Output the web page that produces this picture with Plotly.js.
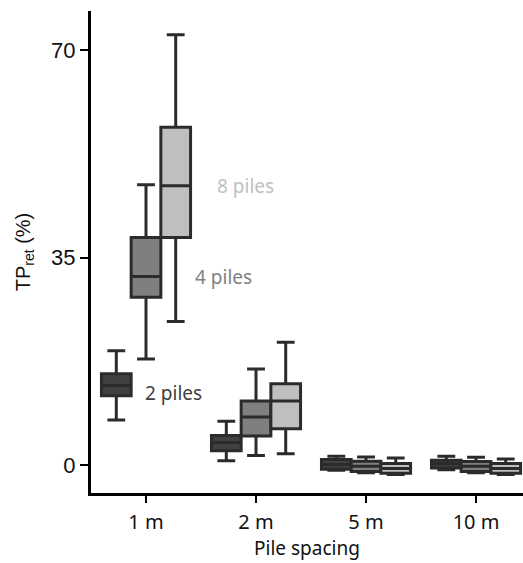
<!DOCTYPE html>
<html>
<head>
<meta charset="utf-8">
<script src="https://cdn.plot.ly/plotly-3.0.1.min.js"></script>
<style>html,body{margin:0;padding:0;background:#fff;}#chart{width:523px;height:563px;}</style>
</head>
<body>
<div id="chart"></div>
<script>
var categories = ["1 m", "2 m", "5 m", "10 m"];
var seriesNames = ["2 piles", "4 piles", "8 piles"];

var lower2 = [7.6, 0.7, -0.9, -0.8];
var q1_2 = [11.7, 2.4, -0.7, -0.5];
var med2 = [13.4, 3.8, 0.1, 0.2];
var q3_2 = [15.4, 5.0, 0.93, 0.8];
var upper2 = [19.3, 7.4, 1.5, 1.5];

var lower4 = [17.9, 1.6, -1.3, -1.3];
var q1_4 = [28.3, 4.9, -1.1, -1.1];
var med4 = [31.8, 8.1, -0.2, -0.2];
var q3_4 = [38.4, 10.8, 0.64, 0.6];
var upper4 = [47.3, 16.2, 1.35, 1.3];

var lower8 = [24.2, 1.9, -1.6, -1.6];
var q1_8 = [38.4, 6.1, -1.4, -1.4];
var med8 = [47.1, 10.8, -0.6, -0.6];
var q3_8 = [57.0, 13.7, 0.25, 0.25];
var upper8 = [72.6, 20.7, 1.18, 1.0];

var yTicks = [0, 35, 70];
var xTitle = "Pile spacing";
var yTitle = "TP<sub>ret</sub> (%)";

var fills = ["#404040", "#7f7f7f", "#bfbfbf"];
var edge = "#2b2b2b";

function mk(i, lo, a, m, b, hi) {
  return {
    type: "box", name: seriesNames[i], x: categories,
    lowerfence: lo, q1: a, median: m, q3: b, upperfence: hi,
    fillcolor: fills[i], line: {color: edge, width: 3},
    whiskerwidth: 0.6, boxpoints: false, showlegend: false, hoverinfo: "skip"
  };
}
var data = [
  mk(0, lower2, q1_2, med2, q3_2, upper2),
  mk(1, lower4, q1_4, med4, q3_4, upper4),
  mk(2, lower8, q1_8, med8, q3_8, upper8)
];

var layout = {
  width: 523, height: 563,
  margin: {l: 91, r: 0, t: 11, b: 70},
  paper_bgcolor: "#fff", plot_bgcolor: "#fff",
  boxmode: "group", boxgap: 0.19, boxgroupgap: 0,
  showlegend: false,
  xaxis: {
    type: "category", range: [-0.5, 3.427],
    showline: true, linecolor: "#000", linewidth: 3,
    showgrid: false, zeroline: false,
    ticks: "outside", ticklen: 7, tickwidth: 2, tickcolor: "#000",
    ticklabelstandoff: 2,
    tickfont: {family: "Noto Sans", size: 20, color: "#111"},
    title: {text: xTitle, font: {family: "Noto Sans", size: 19, color: "#111"}, standoff: 6}
  },
  yaxis: {
    range: [-4.72, 76.6],
    showline: true, linecolor: "#000", linewidth: 3,
    showgrid: false, zeroline: false,
    tickvals: yTicks, ticktext: yTicks.map(String),
    ticks: "outside", ticklen: 8, tickwidth: 2, tickcolor: "#000",
    tickfont: {family: "Liberation Sans", size: 22, color: "#111"},
    title: {text: yTitle, font: {family: "Liberation Sans", size: 20, color: "#111"}, standoff: 16}
  },
  annotations: [
    {x: 0.249, y: 12.1, xref: "x", yref: "y", text: seriesNames[0], showarrow: false,
     font: {family: "Noto Sans", size: 19, color: "#404040"}},
    {x: 0.707, y: 31.75, xref: "x", yref: "y", text: seriesNames[1], showarrow: false,
     font: {family: "Noto Sans", size: 19, color: "#7f7f7f"}},
    {x: 0.903, y: 47.0, xref: "x", yref: "y", text: seriesNames[2], showarrow: false,
     font: {family: "Noto Sans", size: 19, color: "#bfbfbf"}}
  ]
};

Plotly.newPlot("chart", data, layout, {displayModeBar: false, staticPlot: true});
</script>
</body>
</html>
